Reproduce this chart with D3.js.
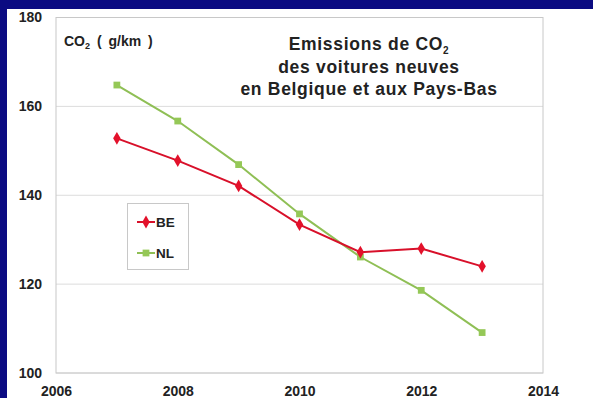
<!DOCTYPE html>
<html>
<head>
<meta charset="utf-8">
<script src="https://cdn.jsdelivr.net/npm/d3@7"></script>
<style>
  html, body { margin: 0; padding: 0; background: #0b0b82; }
  svg { display: block; }
  text { font-family: "Liberation Sans", Arial, sans-serif; font-weight: bold; }
</style>
</head>
<body>
<div id="chart"></div>
<script>
const years = [2007, 2008, 2009, 2010, 2011, 2012, 2013];
const beValues = [152.8, 147.8, 142.1, 133.4, 127.2, 128.0, 124.0];
const nlValues = [164.8, 156.7, 146.9, 135.8, 126.1, 118.6, 109.1];
const xTicks = [2006, 2008, 2010, 2012, 2014];
const yTicks = [100, 120, 140, 160, 180];
const seriesNames = ["BE", "NL"];
const titleLines = ["Emissions de CO", "des voitures neuves", "en Belgique et aux Pays-Bas"];

const w = 593, h = 398;
const colors = { BE: "#e3112b", NL: "#95c857" };
const lineColors = { BE: "#d8102a", NL: "#8fbf55" };

const svg = d3.select("#chart").append("svg")
  .attr("width", w)
  .attr("height", h);

// blue frame, white slide area
svg.append("rect").attr("width", w).attr("height", h).attr("fill", "#0b0b82");
svg.append("rect").attr("x", 7).attr("y", 9).attr("width", w - 7).attr("height", h - 9).attr("fill", "#fff");

const x = d3.scaleLinear().domain([2006, 2014]).range([56, 543]);
const y = d3.scaleLinear().domain([100, 180]).range([373, 17.5]);

// gridlines
svg.append("g")
  .selectAll("line")
  .data(yTicks)
  .enter()
  .append("line")
  .attr("x1", x(2006))
  .attr("x2", x(2014))
  .attr("y1", d => y(d))
  .attr("y2", d => y(d))
  .attr("stroke", "#dcdcdc")
  .attr("stroke-width", 1);

// plot border
svg.append("rect")
  .attr("x", x(2006))
  .attr("y", y(180))
  .attr("width", x(2014) - x(2006))
  .attr("height", y(100) - y(180))
  .attr("fill", "none")
  .attr("stroke", "#c8c8c8")
  .attr("stroke-width", 1);

// axes
const styleTicks = sel => sel.selectAll("text")
  .attr("font-size", 14)
  .attr("fill", "#222")
  .style("font-family", "'Liberation Sans', Arial, sans-serif")
  .style("font-weight", "bold");

const yAxis = svg.append("g")
  .attr("transform", `translate(${x(2006) - 14},0)`)
  .call(d3.axisLeft(y).tickValues(yTicks).tickSize(0).tickPadding(0));
yAxis.select(".domain").remove();
styleTicks(yAxis);

const xAxis = svg.append("g")
  .attr("transform", `translate(0,${y(100) + 13})`)
  .call(d3.axisBottom(x).tickValues(xTicks).tickFormat(d3.format("d")).tickSize(0).tickPadding(0));
xAxis.select(".domain").remove();
styleTicks(xAxis);

// unit label
const unit = svg.append("text")
  .attr("x", 64)
  .attr("y", 46)
  .attr("font-size", 14)
  .attr("word-spacing", 3)
  .attr("fill", "#222");
unit.append("tspan").text("CO");
unit.append("tspan").attr("font-size", 9).attr("dy", 3).text("2");
unit.append("tspan").attr("dy", -3).text(" ( g/km )");

// title
const title = svg.append("g");
titleLines.forEach((t, i) => {
  const tx = title.append("text")
    .attr("x", 369)
    .attr("y", 50 + i * 22.5)
    .attr("text-anchor", "middle")
    .attr("font-size", 17.5)
    .attr("letter-spacing", 0.7)
    .attr("fill", "#222")
    .text(t);
  if (i === 0) {
    tx.append("tspan").attr("font-size", 10).attr("dy", 4).text("2");
  }
});

// lines
const line = d3.line()
  .x(d => x(d.year))
  .y(d => y(d.value));

const series = [
  { name: "BE", values: years.map((yr, i) => ({ year: yr, value: beValues[i] })) },
  { name: "NL", values: years.map((yr, i) => ({ year: yr, value: nlValues[i] })) }
];

// NL first so BE sits on top
[series[1], series[0]].forEach(s => {
  svg.append("path")
    .datum(s.values)
    .attr("fill", "none")
    .attr("stroke", lineColors[s.name])
    .attr("stroke-width", 2)
    .attr("d", line);
});

const diamond = d3.symbol().type(d3.symbolDiamond).size(48);
const square = d3.symbol().type(d3.symbolSquare).size(46);

svg.append("g")
  .selectAll("path")
  .data(series[1].values)
  .enter()
  .append("path")
  .attr("transform", d => `translate(${x(d.year)},${y(d.value)})`)
  .attr("d", square)
  .attr("fill", colors.NL);

svg.append("g")
  .selectAll("path")
  .data(series[0].values)
  .enter()
  .append("path")
  .attr("transform", d => `translate(${x(d.year)},${y(d.value)})`)
  .attr("d", diamond)
  .attr("fill", colors.BE);

// legend
const legend = svg.append("g");
legend.append("rect")
  .attr("x", 127.5)
  .attr("y", 203.5)
  .attr("width", 61)
  .attr("height", 66)
  .attr("fill", "#fff")
  .attr("stroke", "#c8c8c8");

seriesNames.forEach((name, i) => {
  const ly = 222 + i * 31;
  legend.append("line")
    .attr("x1", 137).attr("x2", 155)
    .attr("y1", ly).attr("y2", ly)
    .attr("stroke", lineColors[name])
    .attr("stroke-width", 2);
  legend.append("path")
    .attr("transform", `translate(146,${ly})`)
    .attr("d", name === "BE" ? diamond : square)
    .attr("fill", colors[name]);
  legend.append("text")
    .attr("x", 156)
    .attr("y", ly + 5)
    .attr("font-size", 13.5)
    .attr("fill", "#222")
    .text(name);
});
</script>
</body>
</html>
